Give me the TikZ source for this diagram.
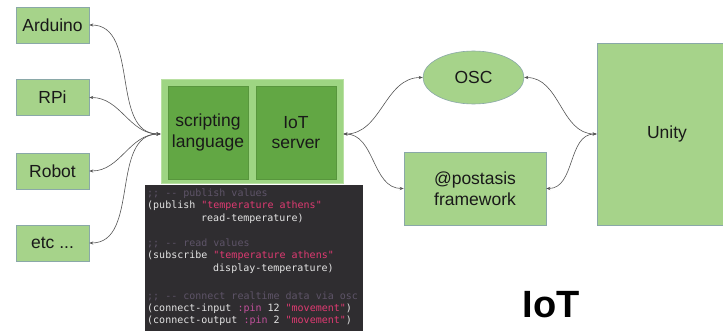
\documentclass[tikz,border=0pt]{standalone}
\usepackage{fontspec}
\setmainfont{Liberation Sans}
\setmonofont{DejaVu Sans Mono}
\usetikzlibrary{arrows.meta,shapes.geometric}
\definecolor{lg}{HTML}{A6D38A}
\definecolor{dg}{HTML}{62A744}
\definecolor{bd}{HTML}{8AA8A8}
\definecolor{cbd}{HTML}{B9E0A2}
\definecolor{codebg}{HTML}{2F2D30}
\definecolor{cstr}{HTML}{E03A72}
\definecolor{ccom}{HTML}{5E5468}
\definecolor{ctxt}{HTML}{E4E4E4}
\definecolor{ckey}{HTML}{C0509A}
\definecolor{lnc}{HTML}{555555}
\begin{document}
\begin{tikzpicture}[x=1pt,y=-1pt,
  box/.style={draw=bd, line width=0.6pt, fill=lg, inner sep=0pt, font=\fontsize{17.5}{20.5}\selectfont, text=black!90, align=center},
  inbox/.style={draw=dg!90!black, line width=0.4pt, fill=dg, inner sep=0pt, font=\fontsize{17.5}{20.5}\selectfont, text=black!90, align=center, minimum width=80pt, minimum height=93pt},
  conn/.style={draw=lnc, line width=0.6pt, {Stealth[length=4pt,width=3.2pt]}-{Stealth[length=4pt,width=3.2pt]}},
  code/.style={anchor=west, inner sep=0pt, text=ctxt, font=\ttfamily\fontsize{10}{12}\selectfont},
  com/.style={code, text=ccom}
]
\useasboundingbox (0,0) rectangle (723,331);
\fill[white] (0,0) rectangle (723,331);

% left boxes
\node[box, minimum width=73pt, minimum height=36pt] (ard) at (52.5,25) {Arduino};
\node[box, minimum width=73pt, minimum height=36pt] (rpi) at (52.5,97.5) {RPi};
\node[box, minimum width=73pt, minimum height=36pt] (rob) at (52.5,171) {Robot};
\node[box, minimum width=73pt, minimum height=36pt] (etc) at (52.5,243) {etc ...};

% container
\node[draw=cbd, line width=0.8pt, fill=lg!95!green, inner sep=0pt, minimum width=182pt, minimum height=104pt] (cont) at (252,131) {};
\node[inbox] (scr) at (208,132.5) {scripting\\language};
\node[inbox] (iot) at (296,132.5) {IoT\\server};

% code box
\node[fill=codebg, inner sep=0pt, minimum width=218pt, minimum height=146pt] (codebox) at (254,258) {};
\node[com]  (c1) at (147,194) {;; -- publish values};
\node[code] (c2) at (147,206) {(publish \textcolor{cstr}{"temperature athens"}};
\node[code] (c3) at (201,219) {read-temperature)};
\node[com]  (c4) at (147,243) {;; -- read values};
\node[code] (c5) at (147,256) {(subscribe \textcolor{cstr}{"temperature athens"}};
\node[code] (c6) at (213,269) {display-temperature)};
\node[com]  (c7) at (147,296) {;; -- connect realtime data via osc};
\node[code] (c8) at (147,309) {(connect-input \textcolor{ckey}{:pin} 12 \textcolor{cstr}{"movement"})};
\node[code] (c9) at (147,321) {(connect-output \textcolor{ckey}{:pin} 2 \textcolor{cstr}{"movement"})};

% right side
\node[box, ellipse, minimum width=101pt, minimum height=53pt] (osc) at (473.5,77.5) {OSC};
\node[box, minimum width=142pt, minimum height=73pt] (post) at (475,188.5) {@postasis\\framework};
\node[box, minimum width=140pt, minimum height=182pt] (unity) at (667,134) {Unity};

% IoT label
\node[inner sep=0pt, font=\bfseries\fontsize{38}{40}\selectfont] (lbl) at (551,305) {IoT};

% connectors
\draw[conn] (ard.east) to[out=0,in=180] ([yshift=-3pt]cont.west);
\draw[conn] (rpi.east) to[out=0,in=180] ([yshift=-3pt]cont.west);
\draw[conn] (rob.east) to[out=0,in=180] ([yshift=-3pt]cont.west);
\draw[conn] (etc.east) to[out=0,in=180] ([yshift=-3pt]cont.west);
\draw[conn] ([yshift=-3pt]cont.east) to[out=0,in=180] (osc.west);
\draw[conn] ([yshift=-3pt]cont.east) to[out=0,in=180] (post.west);
\draw[conn] (osc.east) to[out=0,in=180] (unity.west);
\draw[conn] (post.east) to[out=0,in=180] (unity.west);
\end{tikzpicture}
\end{document}
